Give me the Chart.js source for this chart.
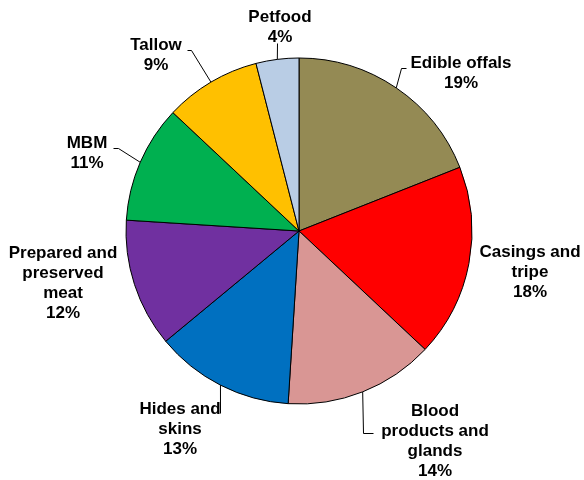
<!DOCTYPE html>
<html lang="en">
<head>
  <meta charset="UTF-8">
  <title>By-products share</title>
  <script src="https://cdn.jsdelivr.net/npm/chart.js"></script>
  <style>
    body {
      margin: 0;
      background: white;
    }
    #wrap {
      width: 584px;
      height: 480px;
    }
  </style>
</head>
<body>
  <div id="wrap"><canvas id="pie" width="584" height="480"></canvas></div>

  <script>
    // data
    const categories = [
      ['Edible offals'],
      ['Casings and', 'tripe'],
      ['Blood', 'products and', 'glands'],
      ['Hides and', 'skins'],
      ['Prepared and', 'preserved', 'meat'],
      ['MBM'],
      ['Tallow'],
      ['Petfood']
    ];
    const shares = [19, 18, 14, 13, 12, 11, 9, 4];
    const colors = ['#948A54', '#FF0000', '#D99694', '#0070C0', '#7030A0', '#00B050', '#FFC000', '#B9CDE5'];

    // where each label sits, relative to the pie centre (x centre, first baseline)
    const labelSpots = [
      { x: 162, y: -163, leader: [[102, -163], [107, -163]] },
      { x: 231, y: 26 },
      { x: 136, y: 185, leader: [[null, 202], [74, 202]] },
      { x: -119, y: 183, leader: [[null, 182]] },
      { x: -236, y: 27 },
      { x: -212, y: -83, leader: [[-181, -83], [-186, -83]] },
      { x: -143, y: -181, leader: [[-108, -181], [-112, -181]] },
      { x: -19, y: -209, leader: [[null, -188]] }
    ];

    const outsideLabels = {
      id: 'outsideLabels',
      afterDatasetsDraw(chart) {
        const ctx = chart.ctx;
        const arcs = chart.getDatasetMeta(0).data;
        ctx.save();
        ctx.font = 'bold 17px "Liberation Sans", Arial, sans-serif';
        ctx.fillStyle = '#000';
        ctx.strokeStyle = '#000';
        ctx.lineWidth = 1;
        ctx.textAlign = 'center';
        ctx.textBaseline = 'alphabetic';
        arcs.forEach((arc, i) => {
          const p = arc.getProps(['x', 'y', 'startAngle', 'endAngle', 'outerRadius'], true);
          const spot = labelSpots[i];
          const mid = (p.startAngle + p.endAngle) / 2;
          const ex = p.x + p.outerRadius * Math.cos(mid);
          const ey = p.y + p.outerRadius * Math.sin(mid);
          if (spot.leader) {
            ctx.beginPath();
            ctx.moveTo(ex, ey);
            spot.leader.forEach(pt => {
              const lx = pt[0] === null ? ex : p.x + pt[0];
              ctx.lineTo(Math.round(lx) + 0.5, Math.round(p.y + pt[1]) + 0.5);
            });
            ctx.stroke();
          }
          const lines = categories[i].concat([shares[i] + '%']);
          lines.forEach((t, k) => {
            ctx.fillText(t, p.x + spot.x, p.y + spot.y + k * 20);
          });
        });
        ctx.restore();
      }
    };

    new Chart(document.getElementById('pie'), {
      type: 'pie',
      data: {
        labels: categories,
        datasets: [{
          data: shares,
          backgroundColor: colors,
          borderColor: '#000',
          borderWidth: 1
        }]
      },
      options: {
        responsive: false,
        animation: false,
        radius: 173,
        layout: { padding: { left: 126, right: 112, top: 58, bottom: 76 } },
        plugins: {
          legend: { display: false },
          tooltip: { enabled: false }
        }
      },
      plugins: [outsideLabels]
    });
  </script>
</body>
</html>
